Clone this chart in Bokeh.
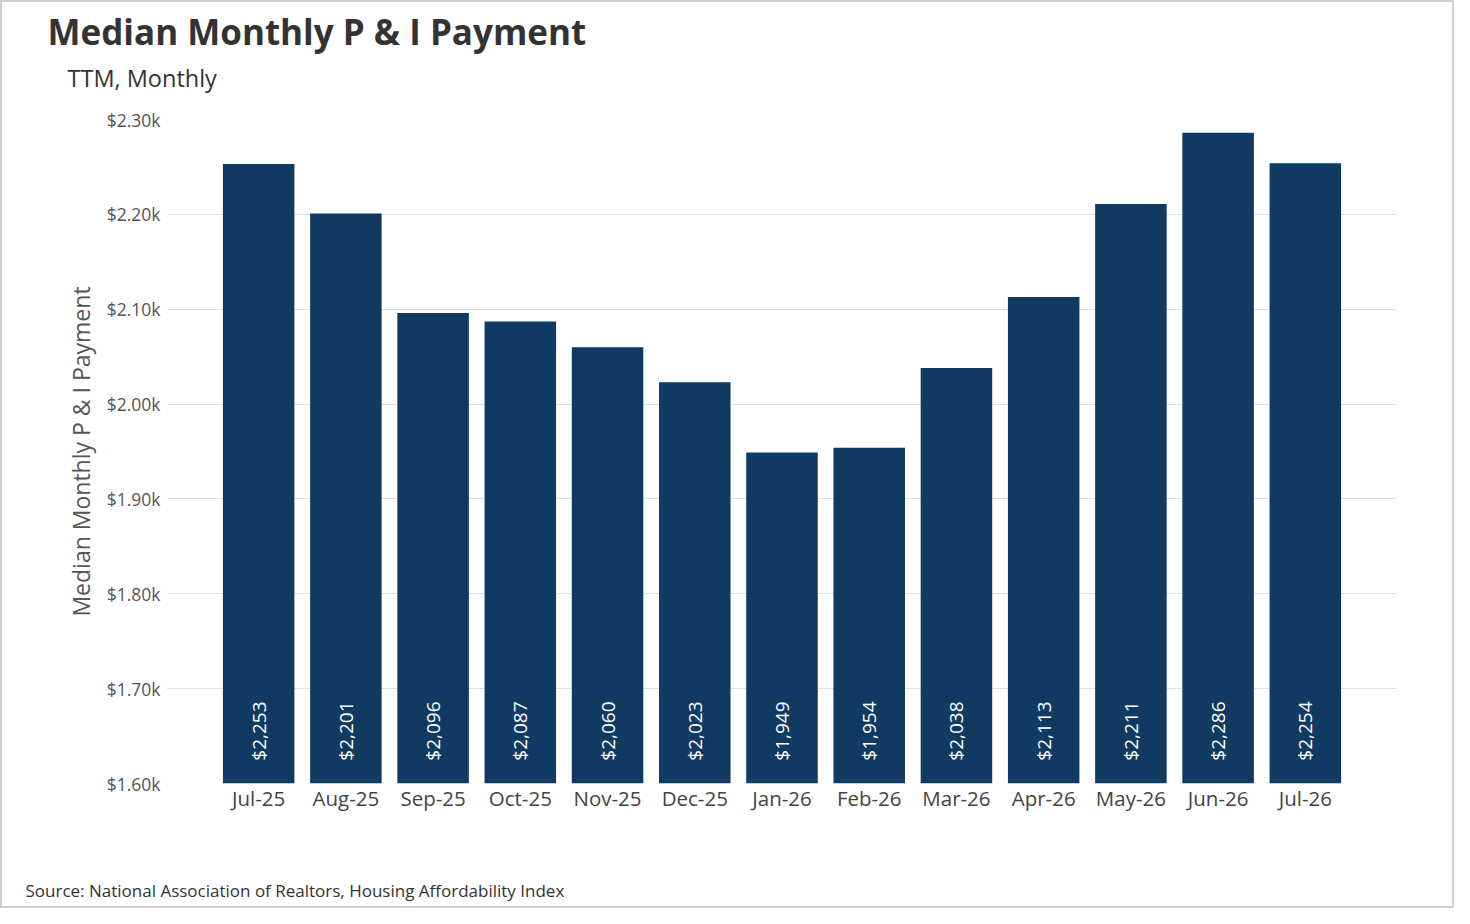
import math
from bokeh.plotting import figure
from bokeh.models import ColumnDataSource, FixedTicker, Range1d, Title, LinearAxis
from bokeh.core.properties import value
from bokeh.embed import file_html
from bokeh.resources import INLINE

months = ["Jul-25", "Aug-25", "Sep-25", "Oct-25", "Nov-25", "Dec-25", "Jan-26",
          "Feb-26", "Mar-26", "Apr-26", "May-26", "Jun-26", "Jul-26"]
payments = [2253, 2201, 2096, 2087, 2060, 2023, 1949, 1954, 2038, 2113, 2211, 2286, 2254]
y_ticks = [1600, 1700, 1800, 1900, 2000, 2100, 2200, 2300]
y_tick_labels = ["$1.60k", "$1.70k", "$1.80k", "$1.90k", "$2.00k", "$2.10k", "$2.20k", "$2.30k"]

FONT = "Open Sans"
BAR = "#113a63"
YMIN, YMAX = 1600, 2300

idx = list(range(len(months)))
src = ColumnDataSource(dict(
    x=idx,
    top=payments,
    label=["${:,}".format(v) for v in payments],
    ly=[YMIN + 24] * len(payments),
))

p = figure(width=1454, height=908, output_backend="svg", toolbar_location=None,
           x_range=Range1d(-1.045, len(months) - 1 + 1.045),
           y_range=Range1d(YMIN, YMAX),
           min_border_left=165, min_border_right=60, min_border_top=116,
           min_border_bottom=127)
p.outline_line_color = None
p.background_fill_color = "white"
p.border_fill_color = "white"
p.styles = {"border": "2px solid #d0d0d0", "box-sizing": "border-box"}

xa = p.xaxis[0]
ya = p.yaxis[0]

p.vbar(x="x", top="top", bottom=YMIN, width=0.82, source=src,
       fill_color=BAR, line_color=None)

p.text(x="x", y="ly", text="label", source=src, angle=math.pi / 2,
       text_align="left", text_baseline="middle", text_color="white",
       text_font=value(FONT), text_font_size="19px")

# main x axis
xa.ticker = FixedTicker(ticks=idx)
xa.major_label_overrides = {i: m for i, m in zip(idx, months)}
xa.axis_line_color = None
xa.major_tick_line_color = None
xa.minor_tick_line_color = None
xa.major_tick_out = 0
xa.major_tick_in = 0
xa.minor_tick_out = 0
xa.major_label_text_font = FONT
xa.major_label_text_font_size = "20.5px"
xa.major_label_text_color = "#444444"
xa.major_label_standoff = 0

# main y axis
ya.ticker = FixedTicker(ticks=y_ticks)
ya.major_label_overrides = {t: l for t, l in zip(y_ticks, y_tick_labels)}
ya.axis_line_color = None
ya.major_tick_line_color = None
ya.minor_tick_line_color = None
ya.major_tick_out = 0
ya.major_tick_in = 0
ya.minor_tick_out = 0
ya.major_label_text_font = FONT
ya.major_label_text_font_size = "17.5px"
ya.major_label_text_color = "#555555"
ya.major_label_standoff = 7
ya.axis_label = "Median Monthly P & I Payment"
ya.axis_label_text_font = FONT
ya.axis_label_text_font_style = "normal"
ya.axis_label_text_font_size = "23px"
ya.axis_label_text_color = "#555555"
ya.axis_label_standoff = 7

p.xgrid.grid_line_color = None
p.ygrid.grid_line_color = "#e0e0e0"
p.ygrid.grid_line_width = 1


def spacer(gap):
    # an axis with one invisible (white) tick and no labels: it only reserves space
    return LinearAxis(ticker=FixedTicker(ticks=[len(months) - 1]), major_tick_out=gap,
                      major_tick_in=0, minor_tick_out=0, minor_tick_in=0,
                      major_label_standoff=0, major_label_text_color=None,
                      axis_line_color=None, major_tick_line_color="white",
                      minor_tick_line_color=None)


# top: spacer next to frame, then subtitle, then main title (outermost)
p.add_layout(spacer(24), "above")
p.add_layout(Title(text="TTM, Monthly", align="left", offset=-100,
                   text_font=FONT, text_font_size="23.5px",
                   text_font_style="normal", text_color="#333333",
                   standoff=4), "above")
p.title.text = "Median Monthly P & I Payment"
p.title.align = "left"
p.title.offset = -120
p.title.text_font = FONT
p.title.text_font_size = "35px"
p.title.text_font_style = "bold"
p.title.text_color = "#333333"
p.title.standoff = 6

# bottom: spacer after the x axis, then the source line
p.add_layout(spacer(60), "below")
p.add_layout(Title(text="Source: National Association of Realtors, Housing Affordability Index",
                   align="left", offset=-142, text_font=FONT,
                   text_font_size="17px", text_font_style="normal",
                   text_color="#333333", standoff=4), "below")

open("out.html", "w").write(file_html(p, INLINE))
